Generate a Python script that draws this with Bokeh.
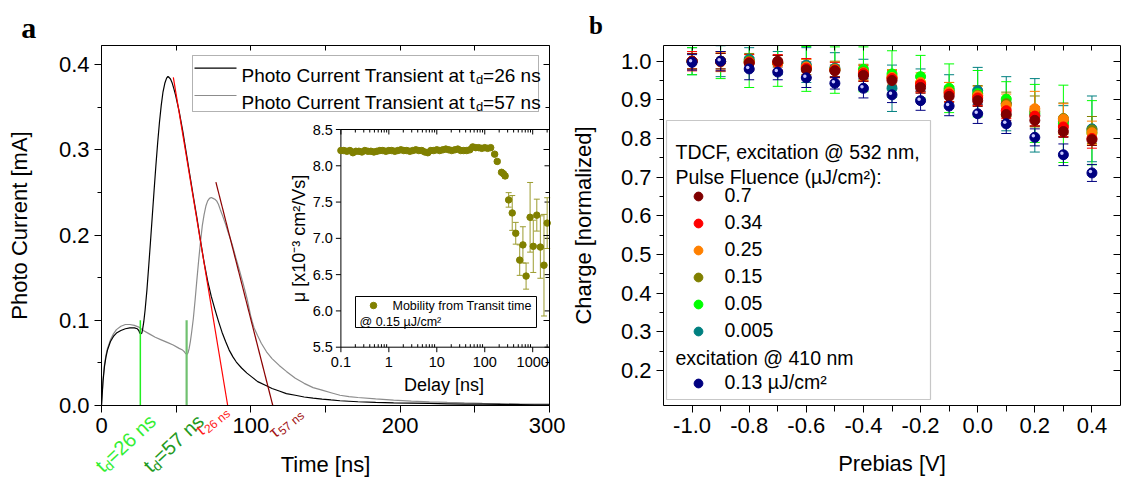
import math
from bokeh.plotting import figure
from bokeh.models import (Range1d, LinearAxis, LogScale, FixedTicker, PrintfTickFormatter,
                          CustomJSTickFormatter, Label, Legend, LegendItem, BoxAnnotation)
from bokeh.layouts import row
from bokeh.embed import file_html
from bokeh.resources import INLINE

FONT = "Liberation Sans"
SERIF = "Liberation Serif"

# ---------------------------------------------------------------- data (panel a)
t_26 = [0, 1, 2, 3, 4, 6, 8, 10, 13, 16, 19, 22, 24, 25, 25.6, 26.3, 27, 27.5, 28.3, 29.2,
        30.4, 31.6, 32.8, 34, 35.2, 36.4, 37.6, 38.8, 40, 41.2, 42.4, 43.6, 44.5, 45.2, 46.2,
        47.2, 48.4, 49.6, 52, 54.5, 56.7, 59, 61.5, 64, 66.3, 68.7, 71.1, 73.5, 75.9, 78.3,
        80.7, 83.1, 85.5, 88, 90.3, 93.8, 97.4, 101, 104.6, 109.4, 114.2, 119, 123.8, 129.8,
        135.7, 141.7, 147.7, 153.7, 159.7, 171.7, 183.6, 195.6, 207.5, 219.5, 231.5, 243,
        255, 267, 280, 290, 300]
i_26 = [0.0, 0.028, 0.046, 0.057, 0.065, 0.075, 0.081, 0.085, 0.088, 0.090, 0.091, 0.091,
        0.090, 0.088, 0.085, 0.084, 0.085, 0.089, 0.098, 0.112, 0.135, 0.163, 0.192, 0.222,
        0.252, 0.281, 0.308, 0.332, 0.352, 0.368, 0.378, 0.384, 0.386, 0.385, 0.383, 0.379,
        0.372, 0.364, 0.345, 0.321, 0.297, 0.272, 0.245, 0.219, 0.193, 0.168, 0.146, 0.128,
        0.113, 0.099, 0.086, 0.075, 0.065, 0.057, 0.051, 0.044, 0.038, 0.033, 0.028, 0.024,
        0.020, 0.017, 0.014, 0.012, 0.010, 0.0087, 0.0075, 0.0065, 0.0056, 0.0044, 0.0036,
        0.0030, 0.0027, 0.0024, 0.0020, 0.0017, 0.0015, 0.0013, 0.0011, 0.0009, 0.0008]

t_57 = [0, 1, 2, 3, 4, 6, 8, 10, 13, 16, 19, 22, 25, 28, 32, 36, 40, 44, 48, 52, 54.3, 55.5,
        56.3, 57.2, 58, 58.7, 59.5, 60.3, 61.5, 62.7, 63.9, 65.1, 66.3, 67.5, 68.7, 69.9, 71.1,
        72.3, 73.5, 74.7, 75.9, 77.1, 78.3, 79.5, 81, 83, 85, 87.5, 90, 92.5, 95, 97.5, 99.8,
        101, 102.2, 104.5, 107, 110.5, 114.2, 119, 123.8, 129.8, 135.7, 141.7, 147.7, 153.7,
        159.7, 165.7, 171.7, 183.6, 195.6, 207.5, 219.5, 231.5, 243, 255, 267, 280, 290, 300]
i_57 = [0.0, 0.030, 0.048, 0.059, 0.067, 0.077, 0.084, 0.089, 0.093, 0.095, 0.095, 0.094,
        0.092, 0.088, 0.084, 0.080, 0.077, 0.074, 0.071, 0.067, 0.065, 0.063, 0.061, 0.060,
        0.062, 0.067, 0.075, 0.085, 0.102, 0.124, 0.148, 0.171, 0.192, 0.211, 0.224, 0.234,
        0.240, 0.243, 0.244, 0.243, 0.242, 0.240, 0.236, 0.230, 0.223, 0.213, 0.202, 0.189,
        0.173, 0.158, 0.142, 0.125, 0.106, 0.098, 0.091, 0.082, 0.073, 0.063, 0.055, 0.047,
        0.040, 0.032, 0.026, 0.021, 0.018, 0.015, 0.012, 0.0105, 0.0094, 0.0077, 0.0063,
        0.0052, 0.0043, 0.0036, 0.0030, 0.0025, 0.0021, 0.0018, 0.0016, 0.0015]

tau26_t = [48.1, 84.5]
tau26_i = [0.385, 0.0]
tau57_t = [76.6, 114.7]
tau57_i = [0.262, 0.0]
td_marks = [26, 57]
td_top = [0.1, 0.1]

# inset: mobility vs delay
delay = [0.100, 0.115, 0.133, 0.154, 0.178, 0.205, 0.237, 0.274, 0.316, 0.365, 0.422, 0.487,
         0.562, 0.649, 0.750, 0.866, 1.00, 1.15, 1.33, 1.54, 1.78, 2.05, 2.37, 2.74, 3.16,
         3.65, 4.22, 4.87, 5.62, 6.49, 7.50, 8.66, 10.0, 11.5, 13.3, 15.4, 17.8, 20.5, 23.7,
         27.4, 31.6, 36.5, 42.2, 48.7, 56.2, 64.9, 75.0, 86.6, 100, 115, 133,
         161, 182, 224, 245, 266, 315, 374, 443, 536, 625, 728, 883, 1028, 1218, 1445, 1718, 2003]
mobility = [8.21, 8.21, 8.20, 8.21, 8.18, 8.20, 8.20, 8.19, 8.21, 8.20, 8.20, 8.19, 8.20, 8.21,
            8.21, 8.20, 8.21, 8.21, 8.20, 8.21, 8.22, 8.21, 8.21, 8.20, 8.21, 8.22, 8.21, 8.21,
            8.19, 8.18, 8.21, 8.21, 8.22, 8.21, 8.22, 8.23, 8.22, 8.21, 8.22, 8.23, 8.21, 8.21,
            8.21, 8.22, 8.26, 8.25, 8.25, 8.24, 8.25, 8.24, 8.25,
            8.16, 8.06, 7.91, 7.89, 7.86, 7.53, 7.35, 7.07, 6.70, 6.91, 6.48, 7.29, 6.89, 7.32,
            6.88, 6.63, 7.21]
mobility_err = [0.0] * 51 + [0.02, 0.02, 0.02, 0.02, 0.03, 0.10, 0.24, 0.15, 0.21, 0.25, 0.18,
                             0.48, 0.36, 0.22, 0.43, 0.70, 0.35]

# ---------------------------------------------------------------- data (panel b)
prebias = [-1.0, -0.9, -0.8, -0.7, -0.6, -0.5, -0.4, -0.3, -0.2, -0.1, 0.0, 0.1, 0.2, 0.3, 0.4]
fluence_labels = ["0.7", "0.34", "0.25", "0.15", "0.05", "0.005"]
fluence_colors = ["#800000", "#ff0000", "#ff8000", "#808000", "#00ff00", "#008080"]
q_07 = [1.000, 1.000, 0.995, 1.000, 0.978, 0.975, 0.963, 0.950, 0.932, 0.909, 0.898, 0.862, 0.847, 0.818, 0.797]
e_07 = [0.02, 0.02, 0.015, 0.015, 0.02, 0.015, 0.015, 0.015, 0.015, 0.015, 0.015, 0.015, 0.015, 0.015, 0.015]
q_034 = [1.000, 1.000, 0.997, 0.997, 0.982, 0.977, 0.968, 0.955, 0.940, 0.915, 0.905, 0.872, 0.858, 0.830, 0.800]
e_034 = [0.025, 0.025, 0.02, 0.02, 0.025, 0.02, 0.02, 0.02, 0.02, 0.02, 0.02, 0.02, 0.025, 0.025, 0.025]
q_025 = [1.000, 0.998, 0.997, 0.995, 0.985, 0.978, 0.970, 0.958, 0.945, 0.920, 0.910, 0.885, 0.877, 0.850, 0.815]
e_025 = [0.02, 0.025, 0.02, 0.02, 0.02, 0.02, 0.02, 0.02, 0.025, 0.025, 0.025, 0.03, 0.045, 0.04, 0.03]
q_015 = [1.000, 1.000, 1.000, 0.995, 0.985, 0.980, 0.972, 0.958, 0.942, 0.920, 0.912, 0.890, 0.870, 0.852, 0.822]
e_015 = [0.02, 0.02, 0.02, 0.02, 0.02, 0.02, 0.02, 0.02, 0.02, 0.025, 0.025, 0.03, 0.04, 0.04, 0.035]
q_005 = [1.000, 1.000, 1.000, 0.995, 0.980, 0.977, 0.979, 0.967, 0.960, 0.930, 0.916, 0.902, 0.865, 0.838, 0.815]
e_005 = [0.035, 0.045, 0.068, 0.06, 0.058, 0.06, 0.058, 0.06, 0.055, 0.063, 0.06, 0.045, 0.075, 0.10, 0.083]
q_0005 = [1.000, 1.000, 1.005, 0.995, 0.990, 0.982, 0.965, 0.930, 0.940, 0.925, 0.924, 0.890, 0.860, 0.845, 0.825]
e_0005 = [0.035, 0.04, 0.03, 0.03, 0.045, 0.04, 0.04, 0.06, 0.04, 0.04, 0.06, 0.07, 0.095, 0.04, 0.085]
q_410 = [0.997, 1.000, 0.980, 0.972, 0.957, 0.943, 0.930, 0.913, 0.898, 0.884, 0.864, 0.838, 0.803, 0.758, 0.711]
e_410 = [0.02, 0.025, 0.028, 0.02, 0.025, 0.015, 0.025, 0.02, 0.025, 0.025, 0.025, 0.025, 0.022, 0.028, 0.022]

a_xticks = [0, 100, 200, 300]
a_yticks = [0.0, 0.1, 0.2, 0.3, 0.4]
b_xticks = [-1.0, -0.8, -0.6, -0.4, -0.2, 0.0, 0.2, 0.4]
b_yticks = [0.2, 0.3, 0.4, 0.5, 0.6, 0.7, 0.8, 0.9, 1.0]
ins_yticks = [5.5, 6.0, 6.5, 7.0, 7.5, 8.0, 8.5]
ins_xticks = [0.1, 1, 10, 100, 1000]
ins_xlabels = ["0.1", "1", "10", "100", "1000"]

# ---------------------------------------------------------------- geometry helpers
H = 483
A_W = 565
A_L, A_R, A_T, A_B = 101, 549, 45, 405          # plot box of panel a (canvas px)
A_PPX = (A_R - A_L) / 300.0                     # px per ns
A_PPY = 852.5                                   # px per mA


def ax(px):
    return (px - A_L) / A_PPX


def ay(py):
    return (A_B - py) / A_PPY


A_BOX_X = (0.0, 300.0)
A_BOX_Y = (0.0, ay(A_T))

I_L, I_T, I_B = 340.4, 129.0, 346.7
I_DEC = 47.95
I_YPX = (I_B - I_T) / 3.0


def ix(px):
    return 10 ** (-1 + (px - I_L) / I_DEC)


def iy(py):
    return 5.5 + (I_B - py) / I_YPX


def ipx(v):
    return I_L + (math.log10(v) + 1) * I_DEC


def ipy(v):
    return I_B - (v - 5.5) * I_YPX


B_OFF = 565
B_W = 1121 - B_OFF
B_L, B_R, B_T, B_B = 663, 1120, 45, 405
B_BOX_X = (-1.1, 0.5)
B_BOX_Y = (0.1095, 1.0406)


def bx(px):
    return B_BOX_X[0] + (px - B_L) / (B_R - B_L) * (B_BOX_X[1] - B_BOX_X[0])


def by(py):
    return B_BOX_Y[0] + (B_B - py) / (B_B - B_T) * (B_BOX_Y[1] - B_BOX_Y[0])


def halves(ticks):
    step = ticks[1] - ticks[0]
    return [round(t + step / 2, 4) for t in ticks[:-1]]


def main_axis(p, where, loc, bounds, ticks, minor, fmt, label, standoff, minor_out=4):
    a = LinearAxis(fixed_location=loc, bounds=bounds,
                   ticker=FixedTicker(ticks=ticks, minor_ticks=minor),
                   formatter=PrintfTickFormatter(format=fmt),
                   axis_label=label, axis_label_text_font=FONT, axis_label_text_font_size="22px",
                   axis_label_text_font_style="normal", axis_label_text_color="black",
                   axis_label_standoff=standoff, major_label_text_font=FONT,
                   major_label_text_font_size="22px", major_label_text_color="black",
                   major_label_standoff=5, axis_line_color="black",
                   major_tick_line_color="black", minor_tick_line_color="black",
                   major_tick_out=7, major_tick_in=0, minor_tick_out=minor_out, minor_tick_in=0)
    p.add_layout(a, where)


def mirror(p, where, loc, bounds, ticks, minor, major_in=6, minor_in=3):
    a = LinearAxis(fixed_location=loc, bounds=bounds,
                   ticker=FixedTicker(ticks=ticks, minor_ticks=minor),
                   formatter=CustomJSTickFormatter(code="return ''"),
                   major_tick_in=major_in, major_tick_out=0,
                   minor_tick_in=minor_in, minor_tick_out=0,
                   major_label_standoff=0, major_label_text_font_size="1px",
                   axis_line_color="black", major_tick_line_color="black",
                   minor_tick_line_color="black")
    p.add_layout(a, where)


def lab(p, x, y, text, size, color="black", align="left", baseline="middle", angle=0.0,
        font=FONT, style="normal"):
    p.add_layout(Label(x=x, y=y, text=text, text_font=font, text_font_size=f"{size}px",
                       text_font_style=style, text_color=color, text_align=align,
                       text_baseline=baseline, angle=angle))


def rotated(p, pieces, sx, sy, deg, color):
    th = math.radians(deg)
    ux, uy = math.cos(th), -math.sin(th)
    nx, ny = math.sin(th), math.cos(th)
    adv = 0.0
    for text, size, em, shift in pieces:
        px = sx + ux * adv + nx * shift
        py = sy + uy * adv + ny * shift
        lab(p, ax(px), ay(py), text, size, color=color, baseline="alphabetic", angle=th)
        adv += em * size


def new_fig(width, xr, yr, **kw):
    p = figure(width=width, height=H, x_range=Range1d(*xr), y_range=Range1d(*yr),
               output_backend="svg", toolbar_location=None, x_axis_location=None,
               y_axis_location=None, min_border=0, min_border_left=0, min_border_right=0,
               min_border_top=0, min_border_bottom=0, **kw)
    p.grid.visible = False
    p.background_fill_color = "white"
    p.border_fill_color = "white"
    p.outline_line_color = None
    return p


# ================================================================ panel a
pa = new_fig(A_W, (ax(0), ax(A_W)), (ay(H), ay(0)),
             extra_x_ranges={"ix": Range1d(ix(0), ix(A_W))},
             extra_x_scales={"ix": LogScale()},
             extra_y_ranges={"iy": Range1d(iy(H), iy(0))})
main_axis(pa, "below", A_BOX_Y[0], A_BOX_X, a_xticks, [50, 150, 250], "%d", "Time [ns]", 16,
          minor_out=7)
main_axis(pa, "left", A_BOX_X[0], A_BOX_Y, a_yticks, halves(a_yticks), "%.1f",
          "Photo Current [mA]", 24)
mirror(pa, "above", A_BOX_Y[1], A_BOX_X, a_xticks, [50, 150, 250], major_in=5, minor_in=5)
mirror(pa, "right", A_BOX_X[1], A_BOX_Y, a_yticks, halves(a_yticks), major_in=6, minor_in=4)

pa.line(t_57, i_57, line_color="#8c8c8c", line_width=1.2)
pa.line(t_26, i_26, line_color="black", line_width=1.2)
pa.line(tau26_t, tau26_i, line_color="#ff0000", line_width=1.2)
pa.line(tau57_t, tau57_i, line_color="#8b0000", line_width=1.2)
pa.segment(x0=td_marks, y0=[0, 0], x1=td_marks, y1=td_top,
           line_color=["#22ee22", "#70c070"], line_width=[1.5, 2.2])

# legend of panel a
pa.add_layout(BoxAnnotation(left=ax(192), right=ax(538), top=ay(55), bottom=ay(111),
                            fill_color="white", fill_alpha=1, line_color="black",
                            line_width=1, level="underlay"))
pa.line([ax(194), ax(236)], [ay(67.7), ay(67.7)], line_color="black", line_width=1.2)
pa.line([ax(194), ax(236)], [ay(95), ay(95)], line_color="#8c8c8c", line_width=1.2)
for yb, td in [(74.5, "26"), (101.5, "57")]:
    lab(pa, ax(241), ay(yb), "Photo Current Transient at t", 19, baseline="alphabetic")
    lab(pa, ax(475.4), ay(yb + 4.5), "d", 13, baseline="alphabetic")
    lab(pa, ax(482.6), ay(yb), f"={td} ns", 19, baseline="alphabetic")

# annotations below the time axis
rotated(pa, [("t", 20, 0.278, 0), ("d", 14, 0.556, 5), ("=26 ns", 20, 3.03, 0)], 98, 468, 43, "#33ee33")
rotated(pa, [("t", 20, 0.278, 0), ("d", 14, 0.556, 5), ("=57 ns", 20, 3.03, 0)], 146, 468, 43, "#229a22")
rotated(pa, [("τ", 17, 0.45, 0), ("26 ns", 12, 2.45, 4)], 197, 432, 40, "#ff1a1a")
rotated(pa, [("τ", 17, 0.45, 0), ("57 ns", 12, 2.45, 4)], 271, 434, 40, "#a31515")

lab(pa, ax(20.7), ay(26.7), "a", 30, baseline="alphabetic", font=SERIF, style="bold")

# ---------------- inset
INS = dict(x_range_name="ix", y_range_name="iy")
pa.quad(left=[ix(I_L)], right=[ix(A_R)], top=[8.5], bottom=[5.5], fill_color="white",
        line_color="black", line_width=1, **INS)
seg_x0, seg_y0, seg_x1, seg_y1 = [], [], [], []
for v in ins_yticks:
    seg_x0 += [ix(I_L - 5), ix(A_R)]
    seg_x1 += [ix(I_L), ix(A_R - 5)]
    seg_y0 += [v, v]
    seg_y1 += [v, v]
for d in ins_xticks:
    seg_x0 += [d, d]
    seg_x1 += [d, d]
    seg_y0 += [iy(I_B), iy(I_T)]
    seg_y1 += [iy(I_B + 5), iy(I_T + 5)]
    for k in range(2, 10):
        m = d * k
        if ipx(m) < A_R - 1:
            seg_x0 += [m, m]
            seg_x1 += [m, m]
            seg_y0 += [iy(I_B), iy(I_T)]
            seg_y1 += [iy(I_B - 3), iy(I_T + 3)]
pa.segment(x0=seg_x0, y0=seg_y0, x1=seg_x1, y1=seg_y1, line_color="black", line_width=1, **INS)
for v in ins_yticks:
    lab(pa, ax(I_L - 8), ay(ipy(v)), f"{v:.1f}", 14.5, align="right")
for d, s in zip(ins_xticks, ins_xlabels):
    lab(pa, ax(ipx(d)), ay(361), s, 14.5, align="center")
lab(pa, ax(443.6), ay(384), "Delay [ns]", 18, align="center")
lab(pa, ax(298), ay(238), "μ [x10⁻³ cm²/Vs]", 18, align="center", angle=math.pi / 2)

ed, elo, ehi = [], [], []
for d, m, e in zip(delay, mobility, mobility_err):
    if e > 0:
        ed.append(d)
        elo.append(m - e)
        ehi.append(m + e)
pa.segment(x0=ed, y0=elo, x1=ed, y1=ehi, line_color="#9c9c30", line_width=1, **INS)
pa.scatter(ed, elo, marker="dash", size=6, line_color="#9c9c30", **INS)
pa.scatter(ed, ehi, marker="dash", size=6, line_color="#9c9c30", **INS)
pa.scatter(delay, mobility, size=6.5, fill_color="#808000", line_color="#808000", **INS)

pa.quad(left=[ix(355)], right=[ix(536)], top=[iy(296)], bottom=[iy(327)], fill_color="white",
        line_color="black", line_width=1, **INS)
pa.scatter([ix(373)], [iy(305)], size=6.5, fill_color="#808000", line_color="#808000", **INS)
lab(pa, ax(392), ay(305.5), "Mobility from Transit time", 12.5)
lab(pa, ax(359), ay(321.5), "@ 0.15 µJ/cm²", 12.5)

# ================================================================ panel b
pb = new_fig(B_W, (bx(B_OFF), bx(1121)), (by(H), by(0)))
main_axis(pb, "below", B_BOX_Y[0], B_BOX_X, b_xticks, halves(b_xticks), "%.1f", "Prebias [V]",
          15, minor_out=6)
main_axis(pb, "left", B_BOX_X[0], B_BOX_Y, b_yticks, halves(b_yticks), "%.1f",
          "Charge [normalized]", 22)
mirror(pb, "above", B_BOX_Y[1], B_BOX_X, b_xticks, halves(b_xticks), major_in=5, minor_in=5)
mirror(pb, "right", B_BOX_X[1], B_BOX_Y, b_yticks, halves(b_yticks), major_in=7, minor_in=4)

values = [q_07, q_034, q_025, q_015, q_005, q_0005]
errors = [e_07, e_034, e_025, e_015, e_005, e_0005]
order = [5, 4, 3, 2, 1, 0]
top = B_BOX_Y[1]
for k in order + [None]:
    vals = q_410 if k is None else values[k]
    errs = e_410 if k is None else errors[k]
    col = "#000080" if k is None else fluence_colors[k]
    lo = [v - e for v, e in zip(vals, errs)]
    hi = [v + e for v, e in zip(vals, errs)]
    pb.segment(x0=prebias, y0=lo, x1=prebias, y1=[min(h, top) for h in hi], line_color=col,
               line_width=1)
    pb.scatter(prebias, lo, marker="dash", size=10, line_color=col)
    cx = [x for x, h in zip(prebias, hi) if h <= top]
    cy = [h for h in hi if h <= top]
    pb.scatter(cx, cy, marker="dash", size=10, line_color=col)

renderers = {}
for k in order:
    renderers[k] = pb.scatter(prebias, values[k], size=10, fill_color=fluence_colors[k],
                              line_color=fluence_colors[k])
r410 = pb.scatter(prebias, q_410, size=10, fill_color="#000080", line_color="#000080")
pb.scatter([x - 0.0052 for x in prebias], [y + 0.0039 for y in q_410], size=3.5,
           fill_color="#c8c8ff", line_color=None)

pb.add_layout(BoxAnnotation(left=bx(666), right=bx(930), top=by(120), bottom=by(399),
                            fill_color="white", fill_alpha=1, line_color="#444444",
                            line_width=1.2, level="underlay"))
lab(pb, bx(675), by(151), "TDCF, excitation @ 532 nm,", 19.5)
lab(pb, bx(675), by(176.5), "Pulse Fluence (µJ/cm²):", 19.5)
lab(pb, bx(675), by(357.5), "excitation @ 410 nm", 19.5)


def make_legend(items, bottom_px):
    lg = Legend(items=items, location=(686.5 - B_OFF, H - bottom_px), orientation="vertical",
                glyph_width=22, glyph_height=22, label_height=22, spacing=4, padding=0,
                margin=0, label_standoff=16, border_line_color=None, background_fill_alpha=0,
                label_text_font=FONT, label_text_font_size="19.5px", label_text_color="black")
    pb.add_layout(lg)


make_legend([LegendItem(label=fluence_labels[k], renderers=[renderers[k]]) for k in range(6)],
            342)
make_legend([LegendItem(label="0.13 µJ/cm²", renderers=[r410])], 394)

lab(pb, bx(588.6), by(25), "b", 25, baseline="alphabetic", font=SERIF, style="bold")

layout = row(pa, pb)
open("out.html", "w").write(file_html(layout, INLINE))
